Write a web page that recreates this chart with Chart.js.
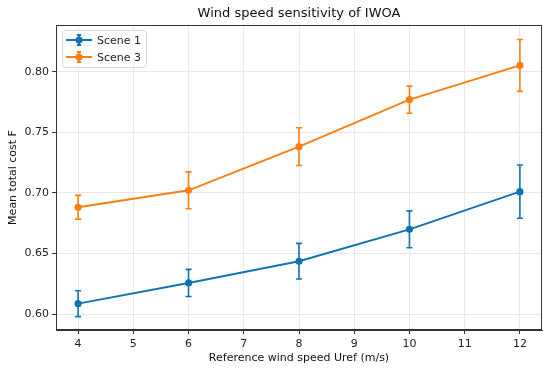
<!DOCTYPE html>
<html>
<head>
<meta charset="utf-8">
<script src="https://cdn.jsdelivr.net/npm/chart.js@4.4.0/dist/chart.umd.min.js"></script>
<style>
  html, body { margin: 0; padding: 0; background: #fff; }
  #wrap { width: 550px; height: 373px; }
</style>
</head>
<body>
<div id="wrap"><canvas id="chart" width="550" height="373"></canvas></div>
<script>
// values
const windSpeeds = [4, 6, 8, 10, 12];
const scene1 = [0.6087, 0.6258, 0.6437, 0.6700, 0.7011];
const scene1Err = [0.0107, 0.0112, 0.0147, 0.0152, 0.0219];
const scene3 = [0.6882, 0.7022, 0.7382, 0.7769, 0.8052];
const scene3Err = [0.0098, 0.0152, 0.0156, 0.0112, 0.0214];
const xTicks = [4, 5, 6, 7, 8, 9, 10, 11, 12];
const yTicks = [0.60, 0.65, 0.70, 0.75, 0.80];
const chartTitle = 'Wind speed sensitivity of IWOA';

const BLUE = '#0f72b2';
const ORANGE = '#fb7f10';
const FONT = 'DejaVu Sans';

const toPoints = (ys) => windSpeeds.map((x, i) => ({ x: x, y: ys[i] }));

// error bars, frame, title and legend box
const errorBars = {
  id: 'errorBars',
  beforeDatasetsDraw(chart) {
    const { ctx, scales: { x, y } } = chart;
    chart.data.datasets.forEach((ds) => {
      ctx.save();
      ctx.strokeStyle = ds.borderColor;
      ctx.lineWidth = 1.6;
      ds.data.forEach((p, i) => {
        const px = x.getPixelForValue(p.x);
        const top = y.getPixelForValue(p.y + ds.errors[i]);
        const bot = y.getPixelForValue(p.y - ds.errors[i]);
        ctx.beginPath();
        ctx.moveTo(px, top); ctx.lineTo(px, bot);
        ctx.moveTo(px - 3, top); ctx.lineTo(px + 3, top);
        ctx.moveTo(px - 3, bot); ctx.lineTo(px + 3, bot);
        ctx.stroke();
      });
      ctx.restore();
    });
  },
  afterDraw(chart) {
    const { ctx, chartArea: a } = chart;
    ctx.save();
    ctx.strokeStyle = '#333';
    ctx.lineWidth = 1;
    ctx.strokeRect(Math.round(a.left) + 0.5, Math.round(a.top) + 0.5,
      Math.round(a.right - a.left) - 1, Math.round(a.bottom - a.top) - 1);

    // title centred over the plot area
    ctx.fillStyle = '#111';
    ctx.font = '13px "' + FONT + '"';
    ctx.textAlign = 'center';
    ctx.textBaseline = 'middle';
    ctx.fillText(chartTitle, (a.left + a.right) / 2, 14);
    ctx.textAlign = 'left';

    const bx = a.left + 6, by = a.top + 5, bw = 84, bh = 37;
    ctx.fillStyle = 'rgba(255,255,255,0.85)';
    ctx.strokeStyle = '#d6d6d6';
    ctx.beginPath();
    ctx.roundRect(bx + 0.5, by + 0.5, bw, bh, 3);
    ctx.fill(); ctx.stroke();
    chart.data.datasets.forEach((ds, i) => {
      const ly = by + 10 + i * 17;
      ctx.strokeStyle = ds.borderColor;
      ctx.fillStyle = ds.borderColor;
      ctx.lineWidth = 1.8;
      ctx.beginPath();
      ctx.moveTo(bx + 4, ly); ctx.lineTo(bx + 30, ly);
      ctx.moveTo(bx + 17, ly - 5); ctx.lineTo(bx + 17, ly + 5);
      ctx.moveTo(bx + 15, ly - 5); ctx.lineTo(bx + 19, ly - 5);
      ctx.moveTo(bx + 15, ly + 5); ctx.lineTo(bx + 19, ly + 5);
      ctx.stroke();
      ctx.beginPath();
      ctx.arc(bx + 17, ly, 3.5, 0, Math.PI * 2);
      ctx.fill();
      ctx.fillStyle = '#222';
      ctx.font = '11px "' + FONT + '"';
      ctx.fillText(ds.label, bx + 35, ly + 1);
    });
    ctx.restore();
  }
};

new Chart(document.getElementById('chart').getContext('2d'), {
  type: 'line',
  data: {
    datasets: [
      { label: 'Scene 1', data: toPoints(scene1), errors: scene1Err,
        borderColor: BLUE, backgroundColor: BLUE, pointBackgroundColor: BLUE },
      { label: 'Scene 3', data: toPoints(scene3), errors: scene3Err,
        borderColor: ORANGE, backgroundColor: ORANGE, pointBackgroundColor: ORANGE }
    ]
  },
  options: {
    responsive: false,
    animation: false,
    layout: { padding: { left: 0, right: 8, top: 25, bottom: 0 } },
    elements: {
      line: { borderWidth: 1.9, tension: 0 },
      point: { radius: 3.6, borderWidth: 0, hoverRadius: 3.6 }
    },
    plugins: {
      legend: { display: false },
      tooltip: { enabled: false },
      title: { display: false }
    },
    scales: {
      x: {
        type: 'linear',
        min: 3.6, max: 12.4,
        afterBuildTicks: (s) => { s.ticks = xTicks.map(v => ({ value: v })); },
        afterFit: (s) => { s.height = 43; },
        ticks: { color: '#222', font: { family: FONT, size: 11 }, padding: 4, maxRotation: 0 },
        grid: { color: '#e8e8e8', tickColor: '#333', tickLength: 4 },
        border: { color: '#333' },
        title: { display: true, text: 'Reference wind speed Uref (m/s)', color: '#111',
          font: { family: FONT, size: 11 }, padding: { top: 2, bottom: 8 } }
      },
      y: {
        type: 'linear',
        min: 0.587, max: 0.8385,
        afterBuildTicks: (s) => { s.ticks = yTicks.map(v => ({ value: v })); },
        afterFit: (s) => { s.width = 56; },
        ticks: { color: '#222', font: { family: FONT, size: 11 }, padding: 3,
          callback: (v) => v.toFixed(2) },
        grid: { color: '#e8e8e8', tickColor: '#333', tickLength: 4 },
        border: { color: '#333' },
        title: { display: true, text: 'Mean total cost F', color: '#111',
          font: { family: FONT, size: 11 }, padding: { top: 7, bottom: 2 } }
      }
    }
  },
  plugins: [errorBars]
});
</script>
</body>
</html>
